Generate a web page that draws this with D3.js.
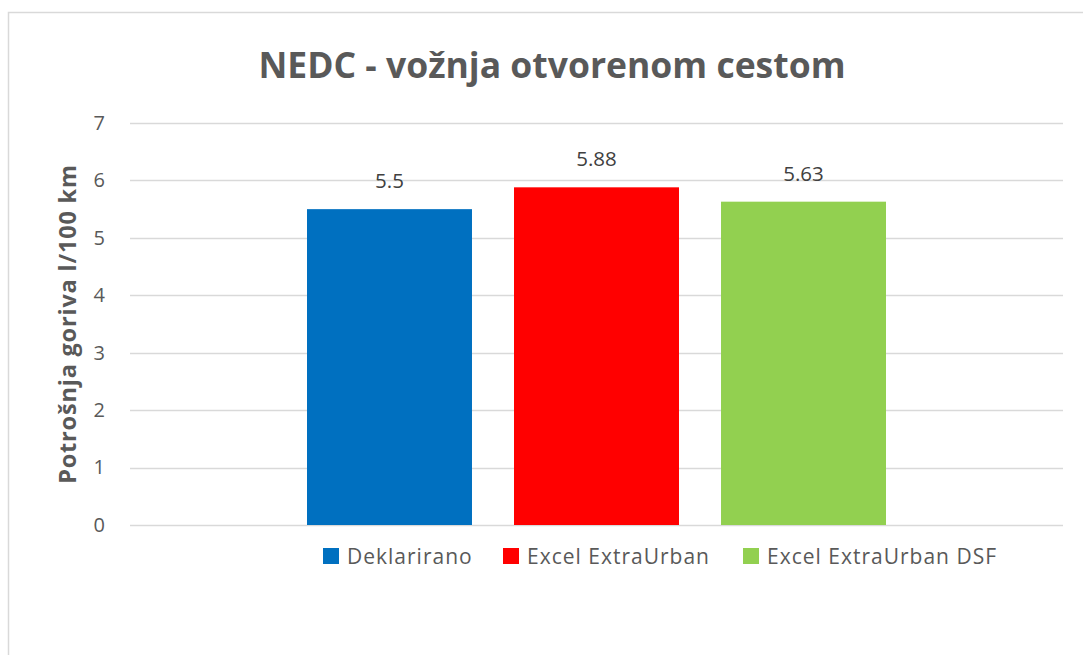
<!DOCTYPE html>
<meta charset="utf-8">
<style>
  body { margin: 0; background: #fff; }
  svg { font-family: "Open Sans", "Noto Sans", sans-serif; }
</style>
<script src="https://d3js.org/d3.v7.min.js"></script>
<div id="my_dataviz"></div>
<script>
// Data
var category = ["NEDC"];
var seriesNames = ["Deklarirano", "Excel ExtraUrban", "Excel ExtraUrban DSF"];
var seriesValues = [5.5, 5.88, 5.63];
var seriesColors = ["#0070C0", "#FF0000", "#92D050"];
var yTicks = [0, 1, 2, 3, 4, 5, 6, 7];
var titleText = "NEDC - vožnja otvorenom cestom";
var yLabel = "Potrošnja goriva l/100 km";

var W = 1083, H = 655;
var margin = {top: 123, left: 130},
    width = 1063 - margin.left,
    height = 525 - margin.top;

var svgRoot = d3.select("#my_dataviz")
  .append("svg")
    .attr("width", W)
    .attr("height", H);

// chart border (only left and top visible in the crop)
svgRoot.append("rect")
  .attr("x", 8.5).attr("y", 12.5)
  .attr("width", W + 20).attr("height", H + 20)
  .attr("fill", "none")
  .attr("stroke", "#d9d9d9")
  .attr("stroke-width", 1.5);

// title
svgRoot.append("text")
  .attr("x", 552)
  .attr("y", 78)
  .attr("text-anchor", "middle")
  .style("font-size", "35.5px")
  .style("font-weight", "bold")
  .style("fill", "#595959")
  .text(titleText);

var svg = svgRoot.append("g")
  .attr("transform", "translate(" + margin.left + "," + margin.top + ")");

// Y scale
var y = d3.scaleLinear()
  .domain([0, 7])
  .range([height, 0]);

// gridlines
svg.append("g")
  .selectAll("line")
  .data(yTicks)
  .enter()
  .append("line")
    .attr("x1", 0)
    .attr("x2", width)
    .attr("y1", function(d) { return Math.round(y(d)) + 0.5; })
    .attr("y2", function(d) { return Math.round(y(d)) + 0.5; })
    .attr("stroke", "#d9d9d9")
    .attr("stroke-width", 1.5);

// Y axis labels
var yAxis = svg.append("g")
  .attr("transform", "translate(-25,0)")
  .call(d3.axisLeft(y).tickValues(yTicks).tickSize(0).tickPadding(0).tickFormat(d3.format("d")));
yAxis.select(".domain").remove();
yAxis.selectAll(".tick text")
  .style("font-family", "'Open Sans', 'Noto Sans', sans-serif")
  .style("font-size", "20px")
  .style("fill", "#595959");

// axis title
svgRoot.append("text")
  .attr("transform", "translate(76," + (margin.top + height / 2) + ") rotate(-90)")
  .attr("text-anchor", "middle")
  .style("font-size", "23.5px")
  .style("letter-spacing", "0.8px")
  .style("font-weight", "bold")
  .style("fill", "#595959")
  .text(yLabel);

// X scales: one category, three series
var x0 = d3.scaleBand()
  .domain(category)
  .range([0, width])
  .paddingInner(0)
  .paddingOuter(0.3057);

var x1 = d3.scaleBand()
  .domain(seriesNames)
  .range([0, x0.bandwidth()])
  .paddingInner(0.203)
  .paddingOuter(0);

var barData = seriesNames.map(function(name, i) {
  return {cat: category[0], name: name, value: seriesValues[i], color: seriesColors[i]};
});

// Bars
svg.selectAll("rect.bar")
  .data(barData)
  .enter()
  .append("rect")
    .attr("class", "bar")
    .attr("x", function(d) { return x0(d.cat) + x1(d.name); })
    .attr("y", function(d) { return y(d.value); })
    .attr("width", x1.bandwidth())
    .attr("height", function(d) { return y(0) - y(d.value); })
    .attr("fill", function(d) { return d.color; });

// value labels
svg.selectAll("text.val")
  .data(barData)
  .enter()
  .append("text")
    .attr("class", "val")
    .attr("x", function(d) { return x0(d.cat) + x1(d.name) + x1.bandwidth() / 2; })
    .attr("y", function(d) { return y(d.value) - 21; })
    .attr("text-anchor", "middle")
    .style("font-size", "20.5px")
    .style("fill", "#404040")
    .text(function(d) { return String(d.value); });

// Legend
var legendX = [323, 503, 743];
var legend = svgRoot.append("g")
  .selectAll("g")
  .data(barData)
  .enter()
  .append("g")
    .attr("transform", function(d, i) { return "translate(" + legendX[i] + ",548)"; });
legend.append("rect")
  .attr("width", 16)
  .attr("height", 16)
  .attr("fill", function(d) { return d.color; });
legend.append("text")
  .attr("x", 24)
  .attr("y", 16)
  .style("font-size", "21px")
  .style("letter-spacing", "1px")
  .style("fill", "#595959")
  .text(function(d) { return d.name; });
</script>
